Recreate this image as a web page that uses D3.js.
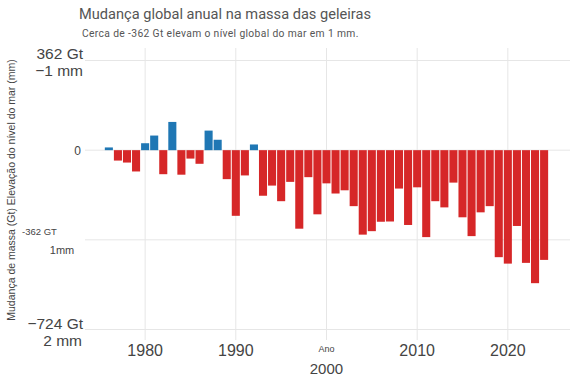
<!DOCTYPE html>
<html><head><meta charset="utf-8">
<script src="https://cdn.jsdelivr.net/npm/d3@7"></script>
<style>body{margin:0;background:#fff}svg{display:block}</style>
</head><body>
<svg id="c" width="576" height="384"></svg>
<script>
const years = d3.range(1976, 2025);
const values = [11,-42,-50,-86,28,59,-97,114,-99,-34,-55,79,42,-117,-265,-102,23,-184,-143,-206,
 -128,-317,-109,-259,-134,-175,-162,-226,-341,-327,-289,-288,-155,-302,-150,-351,-206,-231,-131,-271,
 -347,-251,-226,-432,-458,-306,-455,-537,-443];
const xTicks = [1980,1990,2000,2010,2020];
const yTicks = [362,0,-362,-724];
const title = "Mudança global anual na massa das geleiras";
const subtitle = "Cerca de -362 Gt elevam o nível global do mar em 1 mm.";
const yTitle = "Mudança de massa (Gt) Elevação do nível do mar (mm)";
const xTitle = "Ano";

const svg = d3.select("#c");
const font = "Liberation Sans, Arial, sans-serif";
const x = d3.scaleLinear().domain([1973.7, 2026.8]).range([88, 569.5]);
const y = d3.scaleLinear().domain([362, -724]).range([60.5, 329.5]);
const grid = "#e6e6e6";

// gridlines
svg.append("g").selectAll("line").data(xTicks).join("line")
  .attr("x1", d => x(d)).attr("x2", d => x(d)).attr("y1", 48).attr("y2", 340)
  .attr("stroke", grid).attr("stroke-width", 1);
svg.append("g").selectAll("line").data(yTicks).join("line")
  .attr("x1", 85).attr("x2", 570).attr("y1", d => y(d)).attr("y2", d => y(d))
  .attr("stroke", grid).attr("stroke-width", 1);

// bars
const data = years.map((yr, i) => ({yr, v: values[i]}));
svg.append("g").selectAll("rect").data(data).join("rect")
  .attr("x", d => x(d.yr - 0.5) + 0.5)
  .attr("width", d => x(d.yr + 0.5) - x(d.yr - 0.5) - 1)
  .attr("y", d => y(Math.max(0, d.v)))
  .attr("height", d => Math.abs(y(d.v) - y(0)))
  .attr("fill", d => d.v >= 0 ? "#1f77b4" : "#d62728");

// title
svg.append("text").attr("x", 79).attr("y", 19).attr("font-family", "Roboto, sans-serif")
  .attr("font-size", 14.6).attr("fill", "#555").text(title);
svg.append("text").attr("x", 82).attr("y", 37).attr("font-family", "Roboto, sans-serif")
  .attr("font-size", 10.3).attr("letter-spacing", 0.35).attr("fill", "#555").text(subtitle);

// y tick labels
const tc = "#444";
const yl = svg.append("g").attr("font-family", font).attr("fill", tc);
yl.append("text").attr("x", 83).attr("y", y(362) - 2).attr("text-anchor", "end").attr("font-size", 15.5).text("362 Gt");
yl.append("text").attr("x", 83).attr("y", y(362) + 15).attr("text-anchor", "end").attr("font-size", 15.5).text("−1 mm");
yl.append("text").attr("x", 81).attr("y", y(0) + 4.5).attr("text-anchor", "end").attr("font-size", 12).text("0");
yl.append("text").attr("x", 22).attr("y", y(-362) - 5).attr("font-size", 9.5).text("-362 GT");
yl.append("text").attr("x", 62).attr("y", y(-362) + 14).attr("text-anchor", "middle").attr("font-size", 11).text("1mm");
yl.append("text").attr("x", 83).attr("y", y(-724) - 0.5).attr("text-anchor", "end").attr("font-size", 15.5).text("−724 Gt");
yl.append("text").attr("x", 82).attr("y", y(-724) + 16.5).attr("text-anchor", "end").attr("font-size", 15.5).text("2 mm");

// x tick labels
const xl = svg.append("g").attr("font-family", font).attr("fill", tc).attr("text-anchor", "middle");
xl.selectAll("text.t").data(xTicks.filter(d => d !== 2000)).join("text")
  .attr("class", "t").attr("x", d => x(d)).attr("y", 356).attr("font-size", 16).text(d => d);
xl.append("text").attr("x", x(2000)).attr("y", 352).attr("font-size", 9).text(xTitle);
xl.append("text").attr("x", x(2000)).attr("y", 374).attr("font-size", 15).text(2000);

// y title
svg.append("text").attr("transform", "translate(15,190) rotate(-90)")
  .attr("text-anchor", "middle").attr("font-family", font).attr("font-size", 10.5)
  .attr("fill", "#444").text(yTitle);
</script>
</body></html>
